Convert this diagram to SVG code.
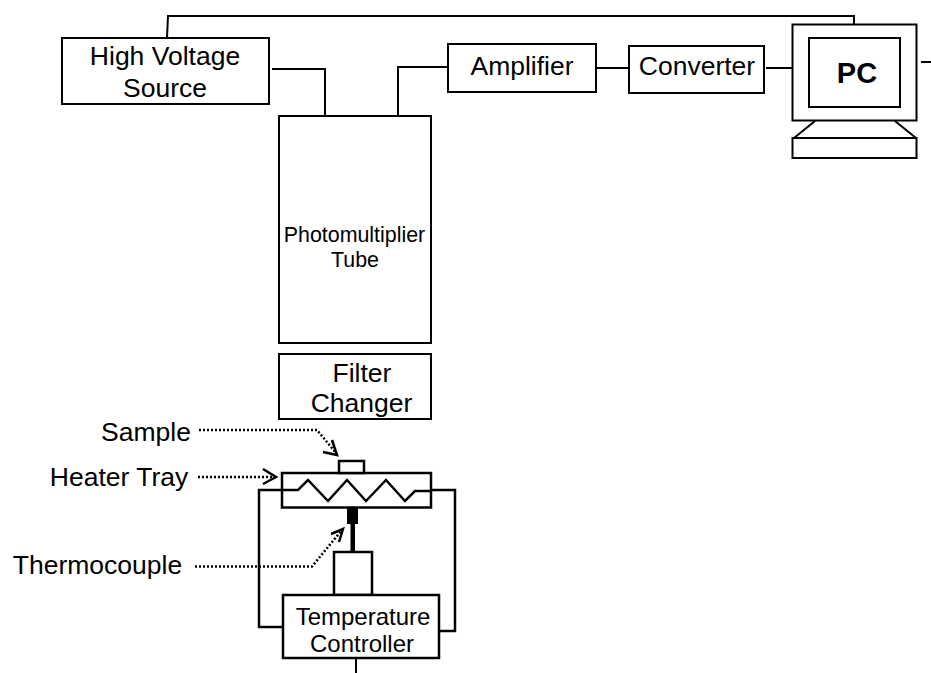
<svg xmlns="http://www.w3.org/2000/svg" width="931" height="673" viewBox="0 0 931 673">
<style>
text{font-family:"Liberation Sans",Arial,sans-serif;fill:#000;text-anchor:middle}
.b{fill:#fff;stroke:#000;stroke-width:2}
.t{fill:#fff;stroke:#000;stroke-width:2.5}
.w{fill:none;stroke:#000;stroke-width:2}
.c{fill:none;stroke:#000;stroke-width:2.5}
.d{fill:none;stroke:#000;stroke-width:2.5;stroke-dasharray:2 2}
.h{fill:none;stroke:#000;stroke-width:2.5}
.l{font-size:26.500px}.m{font-size:24px}.s{font-size:21.400px}
</style>
<rect width="931" height="673" fill="#fff"/>
<g id="connectors">
<path class="w" d="M167 38L168 16H854V24"/>
<path class="w" d="M272 69H325V116"/>
<path class="w" d="M398 116V67H448"/>
<path class="w" d="M597 68H629"/>
<path class="w" d="M766 68H792"/>
<path class="w" d="M921 62H931"/>
<path class="w" d="M356 658V673"/>
<path class="c" d="M298 490H259V627H283"/>
<path class="c" d="M415 490H455V631H439"/>
<path class="d" d="M199 430H317L336 453"/>
<path class="h" d="M323 452L337 455L332 440"/>
<path class="d" d="M198 477H274"/>
<path class="h" d="M263 469L276 477L263 484"/>
<path class="d" d="M195 566.500H312L342 530"/>
<path class="h" d="M331 534L343 529L339 542"/>
</g>
<g id="high-voltage-source"><rect class="b" x="62" y="38" width="207" height="66"/><text class="l" x="165" y="65">High Voltage</text><text class="l" x="165" y="97">Source</text></g>
<g id="amplifier"><rect class="b" x="448" y="44" width="148" height="48"/><text class="l" x="522" y="75">Amplifier</text></g>
<g id="converter"><rect class="b" x="629" y="46" width="135" height="47"/><text class="l" x="697" y="75">Converter</text></g>
<g id="pc"><rect class="b" x="792.500" y="24.500" width="124" height="96"/><rect class="b" x="809" y="38" width="91" height="69"/><path class="w" d="M794 138L815 121M895 121L916 138"/><rect class="b" x="792.500" y="138" width="124" height="20"/><text x="857" y="83" font-size="29" font-weight="bold">PC</text></g>
<g id="photomultiplier-tube"><rect class="b" x="279" y="116" width="152" height="227"/><text class="s" x="354.500" y="242">Photomultiplier</text><text class="s" x="355" y="267">Tube</text></g>
<g id="filter-changer"><rect class="b" x="279" y="354" width="152" height="65"/><text class="l" x="362" y="382">Filter</text><text class="l" x="361.500" y="412">Changer</text></g>
<g id="heater-tray"><rect class="t" x="282" y="473" width="149" height="34.500"/><path class="c" d="M282 490H298L308 480L328 501L347 480L366 501L386 480L405 501L415 491H431"/><rect class="t" x="339" y="461" width="25" height="12"/></g>
<g id="thermocouple"><rect x="347" y="508" width="11" height="16" fill="#000"/><rect x="350.500" y="524" width="4.500" height="28" fill="#000"/></g>
<g id="probe-block"><rect class="t" x="334" y="552" width="38" height="43"/></g>
<g id="temperature-controller"><rect class="t" x="283" y="595" width="156" height="63"/><text class="m" x="363" y="625">Temperature</text><text class="m" x="362" y="652">Controller</text></g>
<g id="labels"><text class="l" x="146" y="441">Sample</text><text class="l" x="119" y="485.500">Heater Tray</text><text class="l" x="97.500" y="573.500">Thermocouple</text></g>
</svg>
